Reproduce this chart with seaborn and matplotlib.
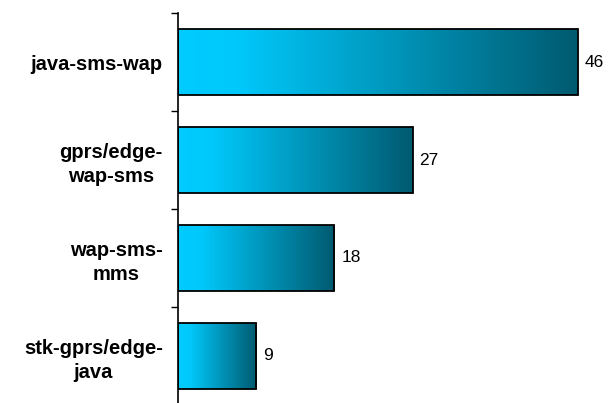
import numpy as np
import pandas as pd
import seaborn as sns
import matplotlib.pyplot as plt
from matplotlib.colors import LinearSegmentedColormap
from matplotlib.ticker import FixedLocator

categories = ["java-sms-wap", "gprs/edge-\nwap-sms", "wap-sms-\nmms", "stk-gprs/edge-\njava"]
values = [46, 27, 18, 9]

df = pd.DataFrame({"category": categories, "value": values})

sns.set_style("white")
plt.rcParams['font.family'] = ['Liberation Sans', 'DejaVu Sans']
plt.rcParams['text.color'] = 'black'
plt.rcParams['ytick.color'] = 'black'

fig = plt.figure(figsize=(6.08, 4.03), dpi=100)
ax = fig.add_axes([178 / 608, -2 / 403, 1 - 178 / 608, 392 / 403])

sns.barplot(data=df, y="category", x="value", orient="h", color="#00ccff",
            width=0.67, errorbar=None, ax=ax)

cmap = LinearSegmentedColormap.from_list(
    "grad", [(0, "#00ccff"), (0.15, "#00c8fa"), (1, "#005a70")])
grad = np.linspace(0, 1, 256).reshape(1, -1)
for p in ax.patches:
    x0, y0 = p.get_x(), p.get_y()
    w, h = p.get_width(), p.get_height()
    p.set_facecolor("none")
    p.set_edgecolor("black")
    p.set_linewidth(1.3)
    p.set_zorder(3)
    im = ax.imshow(grad, cmap=cmap, aspect="auto", extent=[x0, x0 + w, y0 + h, y0],
                   zorder=2, interpolation="bilinear")
    im.set_clip_path(p)

for i, v in enumerate(values):
    ax.text(v + 0.8, i, str(v), va="center", ha="left", fontsize=12.5, color="black")

ax.set_xlim(0, 49.5)
ax.set_ylim(3.5, -0.5)
ax.set_xlabel("")
ax.set_ylabel("")
ax.set_xticks([])
for s in ["top", "right", "bottom"]:
    ax.spines[s].set_visible(False)
ax.spines["left"].set_color("black")
ax.spines["left"].set_linewidth(1.2)

ax.yaxis.set_minor_locator(FixedLocator([-0.5, 0.5, 1.5, 2.5, 3.5]))
ax.tick_params(axis="y", which="major", length=0, pad=11)
ax.tick_params(axis="y", which="minor", length=5, width=1, color="black", direction="out", left=True)
for lbl in ax.get_yticklabels():
    lbl.set_fontweight("bold")
    lbl.set_fontsize(14.5)
    lbl.set_color("black")
    lbl.set_multialignment("center")
    lbl.set_linespacing(1.35)

plt.savefig("out.png", dpi=100)
